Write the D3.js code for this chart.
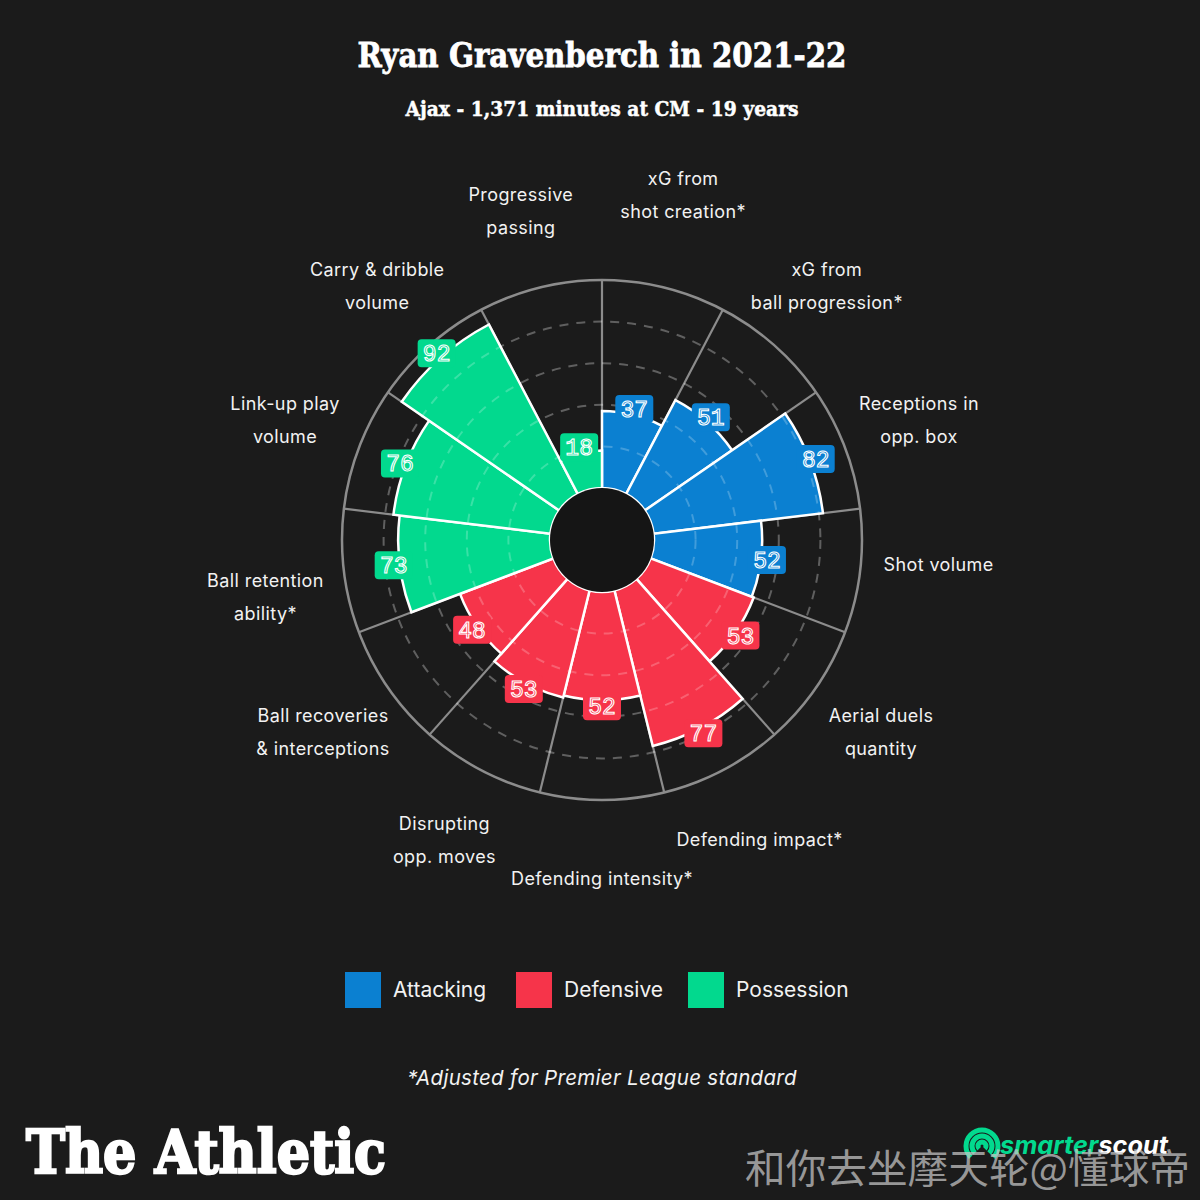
<!DOCTYPE html>
<html>
<head>
<meta charset="utf-8">
<script src="https://cdn.jsdelivr.net/npm/d3@7"></script>
<style>
  html, body { margin: 0; padding: 0; background: #1b1b1b; }
  svg { display: block; }
</style>
</head>
<body>
<script>
// ---------- data ----------
const metricLabels = [
  ["xG from", "shot creation*"],
  ["xG from", "ball progression*"],
  ["Receptions in", "opp. box"],
  ["Shot volume"],
  ["Aerial duels", "quantity"],
  ["Defending impact*"],
  ["Defending intensity*"],
  ["Disrupting", "opp. moves"],
  ["Ball recoveries", "& interceptions"],
  ["Ball retention", "ability*"],
  ["Link-up play", "volume"],
  ["Carry & dribble", "volume"],
  ["Progressive", "passing"]
];
const metricValues = [37, 51, 82, 52, 53, 77, 52, 53, 48, 73, 76, 92, 18];
const metricGroups = [
  "Attacking", "Attacking", "Attacking", "Attacking",
  "Defensive", "Defensive", "Defensive", "Defensive", "Defensive",
  "Possession", "Possession", "Possession", "Possession"
];
const groupNames = ["Attacking", "Defensive", "Possession"];
const groupColors = ["#0b80d1", "#f6344a", "#02d98e"];
const gridTicks = [20, 40, 60, 80];

const titleText = "Ryan Gravenberch in 2021-22";
const subtitleText = "Ajax - 1,371 minutes at CM - 19 years";
const footnoteText = "*Adjusted for Premier League standard";
const watermarkText = "和你去坐摩天轮@懂球帝";

// ---------- layout ----------
const W = 1200, H = 1200;
const cx = 602, cy = 540;
const innerR = 52, outerR = 260;
const labelR = 339;
const valueLabelGap = 6;
const labelNudge = {0: -16, 3: -16, 9: 16};
const bg = "#1b1b1b";
const gridGray = "#8c8c8c";

const svg = d3.select("body").append("svg")
  .attr("width", W).attr("height", H);
svg.append("rect").attr("width", W).attr("height", H).attr("fill", bg);

const color = d3.scaleOrdinal().domain(groupNames).range(groupColors);
const n = metricValues.length;
const angle = d3.scaleLinear().domain([0, n]).range([0, 2 * Math.PI]);
const radius = d3.scaleLinear().domain([0, 100]).range([innerR, outerR]);

// ---------- titles ----------
svg.append("text")
  .attr("x", cx).attr("y", 67)
  .attr("text-anchor", "middle")
  .attr("font-family", "DejaVu Serif")
  .attr("font-weight", "bold")
  .attr("font-size", 34)
  .attr("textLength", 489).attr("lengthAdjust", "spacingAndGlyphs")
  .attr("fill", "#ffffff")
  .attr("stroke", "#ffffff").attr("stroke-width", 0.8)
  .text(titleText);

svg.append("text")
  .attr("x", cx).attr("y", 116)
  .attr("text-anchor", "middle")
  .attr("font-family", "DejaVu Serif")
  .attr("font-weight", "bold")
  .attr("font-size", 21)
  .attr("textLength", 393).attr("lengthAdjust", "spacingAndGlyphs")
  .attr("fill", "#ffffff")
  .attr("stroke", "#ffffff").attr("stroke-width", 0.5)
  .text(subtitleText);

// ---------- chart ----------
const g = svg.append("g").attr("transform", `translate(${cx},${cy})`);

// outer circle
g.append("circle").attr("r", outerR)
  .attr("fill", "none").attr("stroke", gridGray).attr("stroke-width", 2.5);

// spokes
g.selectAll("line.spoke")
  .data(d3.range(n))
  .join("line")
  .attr("class", "spoke")
  .attr("x1", i => innerR * Math.sin(angle(i)))
  .attr("y1", i => -innerR * Math.cos(angle(i)))
  .attr("x2", i => outerR * Math.sin(angle(i)))
  .attr("y2", i => -outerR * Math.cos(angle(i)))
  .attr("stroke", gridGray).attr("stroke-width", 2.2);

// dashed rings (background)
g.selectAll("circle.ring")
  .data(gridTicks)
  .join("circle")
  .attr("class", "ring")
  .attr("r", d => radius(d))
  .attr("fill", "none")
  .attr("stroke", "rgba(255,255,255,0.30)")
  .attr("stroke-width", 2)
  .attr("stroke-dasharray", "9,8");

// bars
const arc = d3.arc()
  .innerRadius(innerR)
  .outerRadius(d => radius(d.value))
  .startAngle(d => angle(d.i))
  .endAngle(d => angle(d.i + 1));

const barData = metricValues.map((v, i) => ({ i, value: v, group: metricGroups[i] }));

g.selectAll("path.bar")
  .data(barData)
  .join("path")
  .attr("class", "bar")
  .attr("d", arc)
  .attr("fill", d => color(d.group))
  .attr("stroke", "#ffffff")
  .attr("stroke-width", 2.5)
  .attr("stroke-linejoin", "miter");

// faint dashed rings over bars
const clip = svg.append("defs").append("clipPath").attr("id", "barsClip");
clip.selectAll("path").data(barData).join("path").attr("d", arc);
g.append("g").attr("clip-path", "url(#barsClip)")
  .selectAll("circle")
  .data(gridTicks)
  .join("circle")
  .attr("r", d => radius(d))
  .attr("fill", "none")
  .attr("stroke", "rgba(255,255,255,0.22)")
  .attr("stroke-width", 2)
  .attr("stroke-dasharray", "9,8");

// center hole
g.append("circle").attr("r", innerR).attr("fill", "#151515");

// value labels
const valG = g.selectAll("g.val")
  .data(barData)
  .join("g")
  .attr("class", "val")
  .attr("transform", d => {
    const a = angle(d.i + 0.5), r = radius(d.value) + valueLabelGap;
    return `translate(${r * Math.sin(a)},${-r * Math.cos(a)})`;
  });
valG.append("rect")
  .attr("x", -19).attr("y", -14).attr("width", 38).attr("height", 28)
  .attr("rx", 4)
  .attr("fill", d => color(d.group));
valG.append("text")
  .attr("text-anchor", "middle")
  .attr("dy", "0.35em")
  .attr("font-family", "Liberation Mono")
  .attr("font-size", 23)
  .attr("fill", d => color(d.group))
  .attr("stroke", "#ffffff")
  .attr("stroke-width", 1.1)
  .text(d => d.value);

// category labels
const labG = g.selectAll("text.cat")
  .data(metricLabels.map((lines, i) => ({ lines, i })))
  .join("text")
  .attr("class", "cat")
  .attr("text-anchor", "middle")
  .attr("font-family", "Inter")
  .attr("font-size", 18)
  .attr("letter-spacing", 0.4)
  .attr("fill", "#f2f2f2")
  .attr("transform", d => {
    const a = angle(d.i + 0.5);
    const x = labelR * Math.sin(a);
    const y = -labelR * Math.cos(a) + (labelNudge[d.i] || 0);
    return `translate(${x},${y})`;
  });
labG.selectAll("tspan")
  .data(d => d.lines.map((t, k) => ({ t, k, len: d.lines.length })))
  .join("tspan")
  .attr("x", 0)
  .attr("y", d => (d.k - (d.len - 1) / 2) * 33)
  .attr("dy", "0.35em")
  .text(d => d.t);

// ---------- legend ----------
const legendX = [345, 516, 688];
const leg = svg.selectAll("g.leg")
  .data(groupNames)
  .join("g")
  .attr("class", "leg")
  .attr("transform", (d, i) => `translate(${legendX[i]},972)`);
leg.append("rect").attr("width", 36).attr("height", 36).attr("fill", d => color(d));
leg.append("text")
  .attr("x", 48).attr("y", 18).attr("dy", "0.35em")
  .attr("font-family", "Inter")
  .attr("font-size", 21)
  .attr("fill", "#f2f2f2")
  .text(d => d);

// footnote
svg.append("text")
  .attr("x", cx).attr("y", 1078).attr("dy", "0.35em")
  .attr("text-anchor", "middle")
  .attr("font-family", "Inter")
  .attr("font-style", "italic")
  .attr("font-size", 20.5)
  .attr("letter-spacing", 0.3)
  .attr("fill", "#f2f2f2")
  .text(footnoteText);

// The Athletic logo
svg.append("text")
  .attr("x", 26).attr("y", 1173)
  .attr("font-family", "DejaVu Serif")
  .attr("font-weight", "bold")
  .attr("font-size", 60)
  .attr("textLength", 360).attr("lengthAdjust", "spacingAndGlyphs")
  .attr("fill", "#ffffff")
  .attr("stroke", "#ffffff").attr("stroke-width", 2.5)
  .text("The Athletic");

// smarterscout logo
const ss = svg.append("g").attr("transform", "translate(982,1146)");
[16, 10, 4].forEach(r => {
  ss.append("path")
    .attr("d", d3.arc()({ innerRadius: r - 2.5, outerRadius: r + 2.5, startAngle: -Math.PI * 0.75, endAngle: Math.PI * 0.75 }))
    .attr("fill", "#02d98e");
});
const sst = svg.append("text")
  .attr("x", 1000).attr("y", 1154)
  .attr("font-family", "Inter")
  .attr("font-weight", "bold")
  .attr("font-style", "italic")
  .attr("font-size", 25)
  .attr("textLength", 168).attr("lengthAdjust", "spacingAndGlyphs");
sst.append("tspan").attr("fill", "#02d98e").text("smarter");
sst.append("tspan").attr("fill", "#ffffff").text("scout");

// watermark
svg.append("text")
  .attr("x", 745).attr("y", 1183)
  .attr("font-family", "Noto Sans CJK SC")
  .attr("font-size", 40)
  .attr("textLength", 445).attr("lengthAdjust", "spacingAndGlyphs")
  .attr("fill", "rgba(200,200,200,0.72)")
  .text(watermarkText);
</script>
</body>
</html>
